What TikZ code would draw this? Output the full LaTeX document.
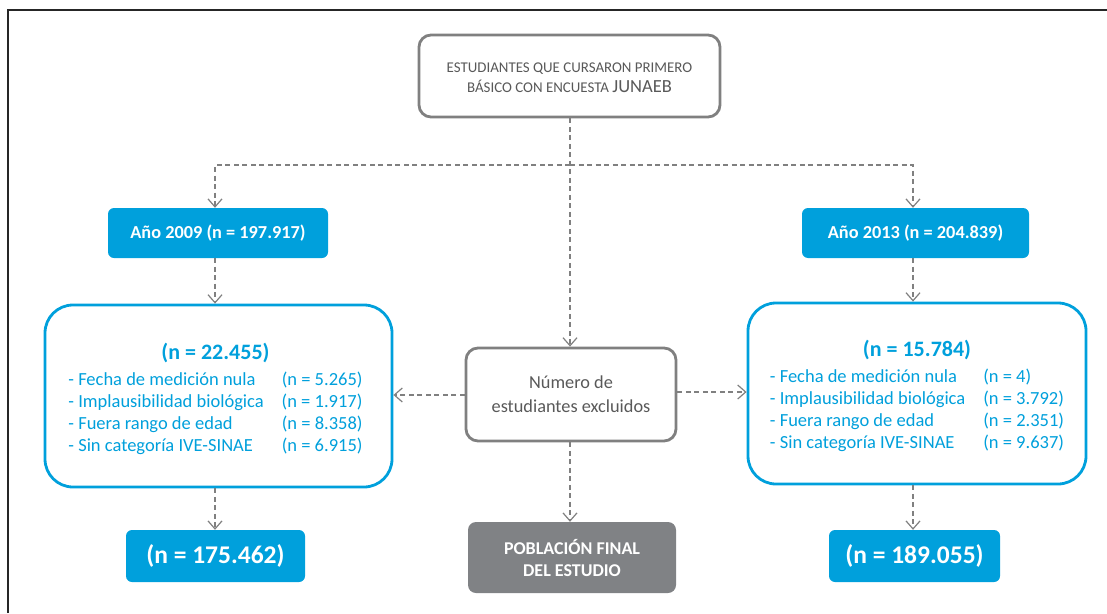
\documentclass[tikz,border=0pt]{standalone}
\usepackage{fontspec}
\setmainfont{Carlito}
\usetikzlibrary{arrows.meta}
\definecolor{cblue}{HTML}{00A0DC}
\definecolor{bgray}{HTML}{808080}
\definecolor{tgray}{HTML}{595959}
\definecolor{fgray}{HTML}{808285}
\begin{document}
\begin{tikzpicture}[x=1pt,y=-1pt,
  conn/.style={draw=bgray, line width=1.4pt, dash pattern=on 5pt off 3.5pt,
    -{Straight Barb[length=8pt,width=14pt,line width=1.2pt]}},
  graybox/.style={draw=bgray, line width=2.8pt, rounded corners=12pt, fill=white,
    text=tgray, align=center, inner sep=0pt},
  bluebox/.style={fill=cblue, rounded corners=6pt, text=white, align=center,
    inner sep=0pt, font=\bfseries\fontsize{18.3}{22}\selectfont},
  exbox/.style={draw=cblue, line width=2.8pt, rounded corners=28pt, fill=white,
    inner sep=0pt},
  extext/.style={text=cblue, inner sep=0pt, font=\fontsize{18.5}{22}\selectfont},
  finalbox/.style={fill=fgray, rounded corners=8pt, text=white, align=center,
    inner sep=0pt, font=\bfseries\fontsize{18}{22}\selectfont},
]
\useasboundingbox (0,0) rectangle (1107,613);
\draw[line width=1.6pt, black!85] (8,613) -- (8,10) -- (1107,10);

\node[graybox, minimum width=301pt, minimum height=82pt,
  font=\fontsize{14.9}{20}\selectfont] (top) at (569.5,76)
  {\\[-6pt]ESTUDIANTES QUE CURSARON PRIMERO\\BÁSICO CON ENCUESTA {\fontsize{18.5}{20}\selectfont JUNAEB}};

\node[bluebox, minimum width=220pt, minimum height=50pt] (a09) at (218,233)
  {Año 2009 (n = 197.917)};
\node[bluebox, minimum width=227pt, minimum height=50pt] (a13) at (915.5,233)
  {Año 2013 (n = 204.839)};

\node[exbox, minimum width=347pt, minimum height=182pt] (ex09) at (218.5,396) {};
\node[extext] (t09) at ([xshift=-3pt,yshift=-4.5pt]ex09.center)
  {\renewcommand{\arraystretch}{1}\begin{tabular}{@{}l@{\hspace{18pt}}l@{}}
   \multicolumn{2}{c}{\bfseries\fontsize{22}{25}\selectfont (n = 22.455)}\\[4pt]
   - Fecha de medición nula & (n = 5.265)\\
   - Implausibilidad biológica & (n = 1.917)\\
   - Fuera rango de edad & (n = 8.358)\\
   - Sin categoría IVE-SINAE & (n = 6.915)
   \end{tabular}};
\node[exbox, minimum width=338pt, minimum height=181pt] (ex13) at (917,393.5) {};
\node[extext] (t13) at ([xshift=0pt,yshift=-4.5pt]ex13.center)
  {\renewcommand{\arraystretch}{1}\begin{tabular}{@{}l@{\hspace{18pt}}l@{}}
   \multicolumn{2}{c}{\bfseries\fontsize{22}{25}\selectfont (n = 15.784)}\\[4pt]
   - Fecha de medición nula & (n = 4)\\
   - Implausibilidad biológica & (n = 3.792)\\
   - Fuera rango de edad & (n = 2.351)\\
   - Sin categoría IVE-SINAE & (n = 9.637)
   \end{tabular}};

\node[graybox, minimum width=210pt, minimum height=93pt,
  font=\fontsize{18.3}{24}\selectfont] (num) at (571,394.5)
  {Número de\\estudiantes excluidos};

\node[bluebox, minimum width=179pt, minimum height=52pt,
  font=\bfseries\fontsize{25.5}{28}\selectfont] (f09) at (215.5,556) {(n = 175.462)};
\node[bluebox, minimum width=171pt, minimum height=52pt,
  font=\bfseries\fontsize{25.5}{28}\selectfont] (f13) at (914.5,556) {(n = 189.055)};
\node[finalbox, minimum width=208pt, minimum height=71pt] (pob) at (572,557.5)
  {POBLACIÓN FINAL\\DEL ESTUDIO};

\coordinate (split) at (570,165);
\draw[conn] (top.south -| split) -- (num.north -| split);
\draw[conn] (split) -| (a09.north -| 215,0);
\draw[conn] (split) -| (a13.north -| 913,0);
\draw[conn] (a09.south -| 215,0) -- (ex09.north -| 215,0);
\draw[conn] (a13.south -| 913,0) -- (ex13.north -| 913,0);
\draw[conn] (num.west |- 0,395) -- (ex09.east |- 0,395);
\draw[conn] (num.east |- 0,392) -- (ex13.west |- 0,392);
\draw[conn] (num.south -| split) -- (pob.north -| split);
\draw[conn] (ex09.south -| 215,0) -- (f09.north -| 215,0);
\draw[conn] (ex13.south -| 913,0) -- (f13.north -| 913,0);
\end{tikzpicture}
\end{document}
